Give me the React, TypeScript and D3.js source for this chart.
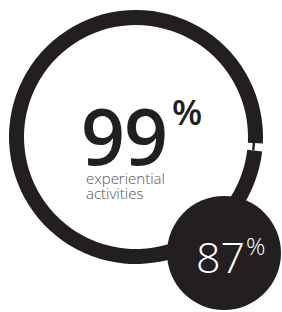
import * as React from 'react';
import * as d3 from 'd3';

// main ring: share of experiential activities
const mainValue = 99;
const mainLabel = ['experiential', 'activities'];
// small bubble value
const bubbleValue = 87;

const width = 282;
const height = 312;
const ink = '#231f20';

export default function App() {
  const ref = React.useRef<SVGSVGElement>(null);

  React.useEffect(() => {
    const svg = d3.select(ref.current);
    svg.selectAll('*').remove();

    const cx = 136, cy = 137;
    const outer = 127, inner = 112;

    const pie = d3.pie<number>()
      .sort(null)
      .startAngle((96.5 * Math.PI) / 180)
      .endAngle((96.5 * Math.PI) / 180 + 2 * Math.PI);
    const arcs = pie([mainValue, 100 - mainValue]);
    const arc = d3.arc<d3.PieArcDatum<number>>().innerRadius(inner).outerRadius(outer);

    const g = svg.append('g').attr('transform', `translate(${cx},${cy})`);

    g.append('path')
      .attr('d', arc(arcs[0]) as string)
      .attr('fill', ink);

    // thin track visible through the gap
    g.append('path')
      .attr('d', d3.arc<d3.PieArcDatum<number>>().innerRadius(116.8).outerRadius(119.2)(arcs[1]) as string)
      .attr('fill', ink);

    // big number
    const t = svg.append('text')
      .attr('x', 81)
      .attr('y', 165)
      .attr('font-family', "'Open Sans', sans-serif")
      .attr('fill', ink);
    t.append('tspan').attr('font-size', 77).attr('font-weight', 600).attr('letter-spacing', -1).text(String(mainValue));
    t.append('tspan').attr('font-size', 35).attr('font-weight', 600).attr('dx', 5).attr('dy', -40).text('%');

    svg.selectAll('text.lbl')
      .data(mainLabel)
      .enter()
      .append('text')
      .attr('class', 'lbl')
      .attr('x', 86)
      .attr('y', (_, i) => 184 + i * 15.3)
      .attr('font-family', "'Open Sans', sans-serif")
      .attr('font-weight', 300)
      .attr('font-size', 15)
      .attr('fill', '#555')
      .text(d => d);

    // bubble
    const bx = 224, by = 253, br = 57;
    svg.append('circle')
      .attr('cx', bx)
      .attr('cy', by)
      .attr('r', br)
      .attr('fill', ink);

    const b = svg.append('text')
      .attr('x', 196)
      .attr('y', 273)
      .attr('font-family', "'Open Sans', sans-serif")
      .attr('font-weight', 300)
      .attr('fill', '#fff');
    b.append('tspan').attr('font-size', 43).text(String(bubbleValue));
    b.append('tspan').attr('font-size', 24).attr('dx', 1).attr('dy', -18).text('%');
  }, []);

  return (
    <svg
      ref={ref}
      width={width}
      height={height}
      style={{ position: 'absolute', left: 0, top: 0, background: '#fff' }}
    />
  );
}
